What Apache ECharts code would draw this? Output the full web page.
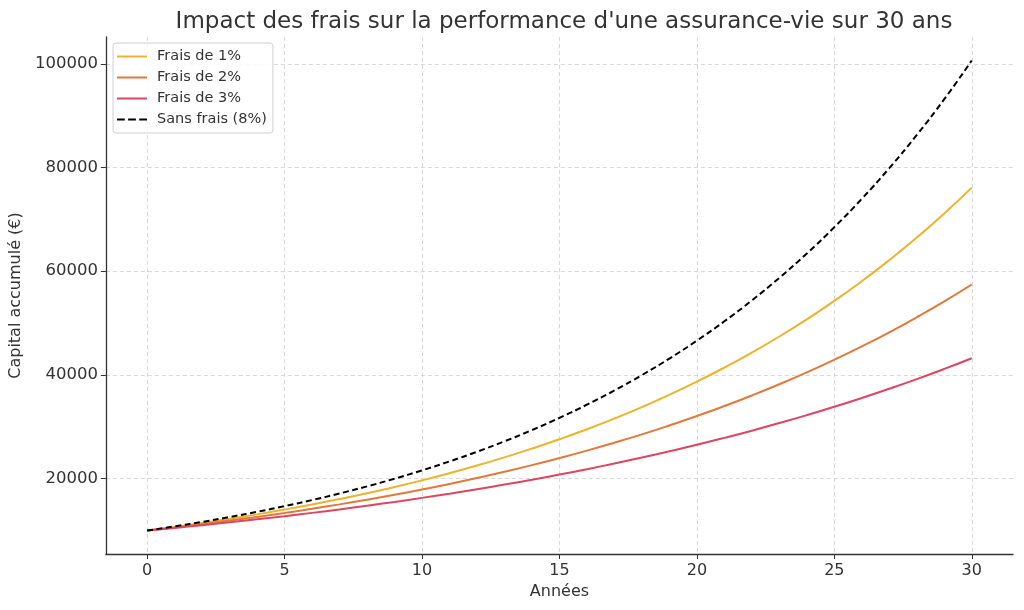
<!DOCTYPE html>
<html>
<head>
<meta charset="utf-8">
<script src="https://cdn.jsdelivr.net/npm/echarts@6/dist/echarts.min.js"></script>
<style>
html, body { margin: 0; padding: 0; background: #fff; }
#chart { width: 1024px; height: 610px; }
</style>
</head>
<body>
<div id="chart"></div>
<script>
// années 0..30
var years = [0, 1, 2, 3, 4, 5, 6, 7, 8, 9, 10, 11, 12, 13, 14, 15, 16, 17, 18, 19, 20,
	21, 22, 23, 24, 25, 26, 27, 28, 29, 30];

// capital
var frais1 = [10000, 10700, 11450, 12250, 13110, 14030, 15010, 16060, 17180, 18390, 19670,
	21050, 22520, 24100, 25790, 27590, 29520, 31590, 33800, 36170, 38700,
	41410, 44300, 47410, 50720, 54270, 58070, 62140, 66490, 71140, 76120];
var frais2 = [10000, 10600, 11240, 11910, 12620, 13380, 14190, 15040, 15940, 16900, 17910,
	18980, 20120, 21330, 22610, 23970, 25400, 26930, 28540, 30260, 32070,
	34000, 36040, 38200, 40490, 42920, 45490, 48220, 51120, 54180, 57430];
var frais3 = [10000, 10500, 11030, 11580, 12160, 12760, 13400, 14070, 14780, 15510, 16290,
	17100, 17960, 18860, 19800, 20790, 21830, 22920, 24070, 25270, 26530,
	27860, 29250, 30720, 32250, 33860, 35560, 37340, 39200, 41160, 43220];
var sansFrais = [10000, 10800, 11660, 12600, 13600, 14690, 15870, 17140, 18510, 19990, 21590,
	23320, 25180, 27200, 29370, 31720, 34260, 37000, 39960, 43160, 46610,
	50340, 54370, 58720, 63410, 68490, 73960, 79880, 86270, 93170, 100630];

var xTicks = [0, 5, 10, 15, 20, 25, 30];
var yTicks = [20000, 40000, 60000, 80000, 100000];

var names = ['Frais de 1%', 'Frais de 2%', 'Frais de 3%', 'Sans frais (8%)'];
var colors = ['#EDB32A', '#E2793A', '#DD4560', '#000000'];

function pairs(vals) {
	return years.map(function (y, i) { return [y, vals[i]]; });
}

var font = 'DejaVu Sans';

function makeSeries(name, vals, color, dashed) {
	return {
		name: name,
		type: 'line',
		smooth: true,
		showSymbol: false,
		symbol: 'none',
		data: pairs(vals),
		lineStyle: { color: color, width: 2, type: dashed ? [6, 3.5] : 'solid' },
		itemStyle: { color: color }
	};
}

var myChart = echarts.init(document.getElementById('chart'));
var option = {
	backgroundColor: '#fff',
	animation: false,
	title: {
		text: "Impact des frais sur la performance d'une assurance-vie sur 30 ans",
		left: 559,
		textAlign: 'center',
		top: 6,
		textStyle: { fontFamily: font, fontSize: 23, fontWeight: 'normal', color: '#333' }
	},
	legend: {
		orient: 'vertical',
		left: 113,
		top: 43,
		padding: [6, 6, 6, 4],
		itemGap: 6,
		itemWidth: 30,
		itemHeight: 12,
		borderColor: '#d0d0d0',
		borderWidth: 1,
		borderRadius: 3,
		backgroundColor: 'rgba(255,255,255,0.85)',
		icon: 'path://M0,5L30,5L30,7L0,7Z',
		data: names.map(function (n, i) {
			return i === 3 ? { name: n, icon: 'path://M0,5L7,5L7,7L0,7ZM10,5L17,5L17,7L10,7ZM20,5L27,5L27,7L20,7Z' } : { name: n };
		}),
		textStyle: { fontFamily: font, fontSize: 14.5, color: '#333', padding: [0, 0, 0, 5] }
	},
	grid: { left: 105, right: 11, top: 37, bottom: 56, containLabel: false },
	xAxis: {
		type: 'value',
		min: -1.5,
		max: 31.5,
		name: 'Années',
		nameLocation: 'middle',
		nameGap: 30,
		nameTextStyle: { fontFamily: font, fontSize: 16, color: '#333' },
		axisLine: { onZero: false, lineStyle: { color: '#333', width: 1.3 } },
		axisTick: { show: true, inside: false, length: 5, customValues: xTicks, lineStyle: { color: '#333' } },
		axisLabel: { customValues: xTicks, fontFamily: font, fontSize: 16, color: '#333', margin: 9 },
		splitLine: { show: true, lineStyle: { color: '#cfcfcf', type: [4, 3], width: 0.8 } }
	},
	yAxis: {
		type: 'value',
		min: 5469,
		max: 105158,
		name: 'Capital accumulé (€)',
		nameLocation: 'middle',
		nameGap: 80,
		nameTextStyle: { fontFamily: font, fontSize: 16, color: '#333' },
		axisLine: { show: true, onZero: false, lineStyle: { color: '#333', width: 1.3 } },
		axisTick: { show: true, inside: false, length: 5, customValues: yTicks, lineStyle: { color: '#333' } },
		axisLabel: {
			customValues: yTicks, fontFamily: font, fontSize: 16.5, color: '#333', margin: 8,
			formatter: function (v) { return String(v); }
		},
		splitLine: { show: true, lineStyle: { color: '#cfcfcf', type: [4, 3], width: 0.8 } }
	},
	series: [
		makeSeries(names[0], frais1, colors[0], false),
		makeSeries(names[1], frais2, colors[1], false),
		makeSeries(names[2], frais3, colors[2], false),
		makeSeries(names[3], sansFrais, colors[3], true)
	]
};
myChart.setOption(option);
</script>
</body>
</html>
